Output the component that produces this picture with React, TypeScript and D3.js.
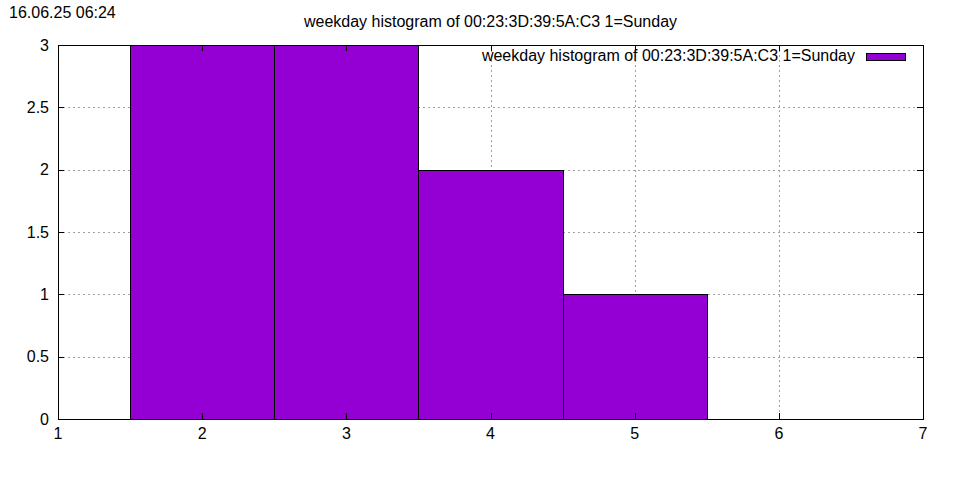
import React from "react";
import * as d3 from "d3";

const weekdays = [2, 3, 4, 5];
const counts = [3, 3, 2, 1];
const xTicks = [1, 2, 3, 4, 5, 6, 7];
const yTicks = [0, 0.5, 1, 1.5, 2, 2.5, 3];
const yTickLabels = ["0", "0.5", "1", "1.5", "2", "2.5", "3"];
const titleText = "weekday histogram of 00:23:3D:39:5A:C3 1=Sunday";
const timestamp = "16.06.25 06:24";

const W = 960, H = 480;
const L = 58, R = 923, T = 45, B = 419;
const FONT = "'Liberation Sans', Arial, sans-serif";
const COLOR = "#9400d3";

export default function App() {
  const x = d3.scaleLinear().domain([1, 7]).range([L, R]);
  const y = d3.scaleLinear().domain([0, 3]).range([B, T]);
  const tick = 6;
  return (
    <svg width={W} height={H} style={{ position: "absolute", left: 0, top: 0, background: "#fff" }} fontFamily={FONT}>
      <rect x={0} y={0} width={W} height={H} fill="#fff" />
      {/* grid */}
      {yTicks.slice(1, -1).map((v) => (
        <line key={"gy" + v} x1={L} x2={R} y1={Math.round(y(v)) + 0.5} y2={Math.round(y(v)) + 0.5} stroke="#a0a0a0" strokeDasharray="2,3" />
      ))}
      {xTicks.slice(1, -1).map((v) => (
        <line key={"gx" + v} y1={T} y2={B} x1={Math.round(x(v)) + 0.5} x2={Math.round(x(v)) + 0.5} stroke="#a0a0a0" strokeDasharray="2,3" />
      ))}
      {/* bars */}
      {weekdays.map((d, i) => (
        <rect key={"b" + d} x={Math.round(x(d - 0.5)) + 0.5} y={Math.round(y(counts[i])) + 0.5}
          width={Math.round(x(d + 0.5)) - Math.round(x(d - 0.5))}
          height={Math.round(y(0)) - Math.round(y(counts[i]))}
          fill={COLOR} stroke="#000" strokeWidth={1} />
      ))}
      {/* ticks */}
      {yTicks.map((v) => {
        const yy = Math.round(y(v)) + 0.5;
        return (
          <g key={"ty" + v}>
            <line x1={L} x2={L + tick} y1={yy} y2={yy} stroke="#000" />
            <line x1={R - tick} x2={R} y1={yy} y2={yy} stroke="#000" />
          </g>
        );
      })}
      {xTicks.map((v) => {
        const xx = Math.round(x(v)) + 0.5;
        return (
          <g key={"tx" + v}>
            <line y1={B} y2={B - tick} x1={xx} x2={xx} stroke="#000" />
            <line y1={T} y2={T + tick} x1={xx} x2={xx} stroke="#000" />
          </g>
        );
      })}
      {/* border */}
      <rect x={L + 0.5} y={T + 0.5} width={R - L} height={B - T} fill="none" stroke="#000" />
      {/* tick labels */}
      {yTicks.map((v, i) => (
        <text key={"ly" + v} x={L - 9} y={y(v) + 5.5} textAnchor="end" fontSize={16} fill="#000">{yTickLabels[i]}</text>
      ))}
      {xTicks.map((v) => (
        <text key={"lx" + v} x={x(v)} y={B + 20} textAnchor="middle" fontSize={16} fill="#000">{v}</text>
      ))}
      {/* title */}
      <text x={(L + R) / 2} y={27} textAnchor="middle" fontSize={16} fill="#000">{titleText}</text>
      <text x={9} y={18} fontSize={16} fill="#000">{timestamp}</text>
      {/* legend */}
      <text x={855} y={61} textAnchor="end" fontSize={16} fill="#000">{titleText}</text>
      <rect x={866.5} y={53.5} width={39} height={7} fill={COLOR} stroke="#000" />
    </svg>
  );
}
